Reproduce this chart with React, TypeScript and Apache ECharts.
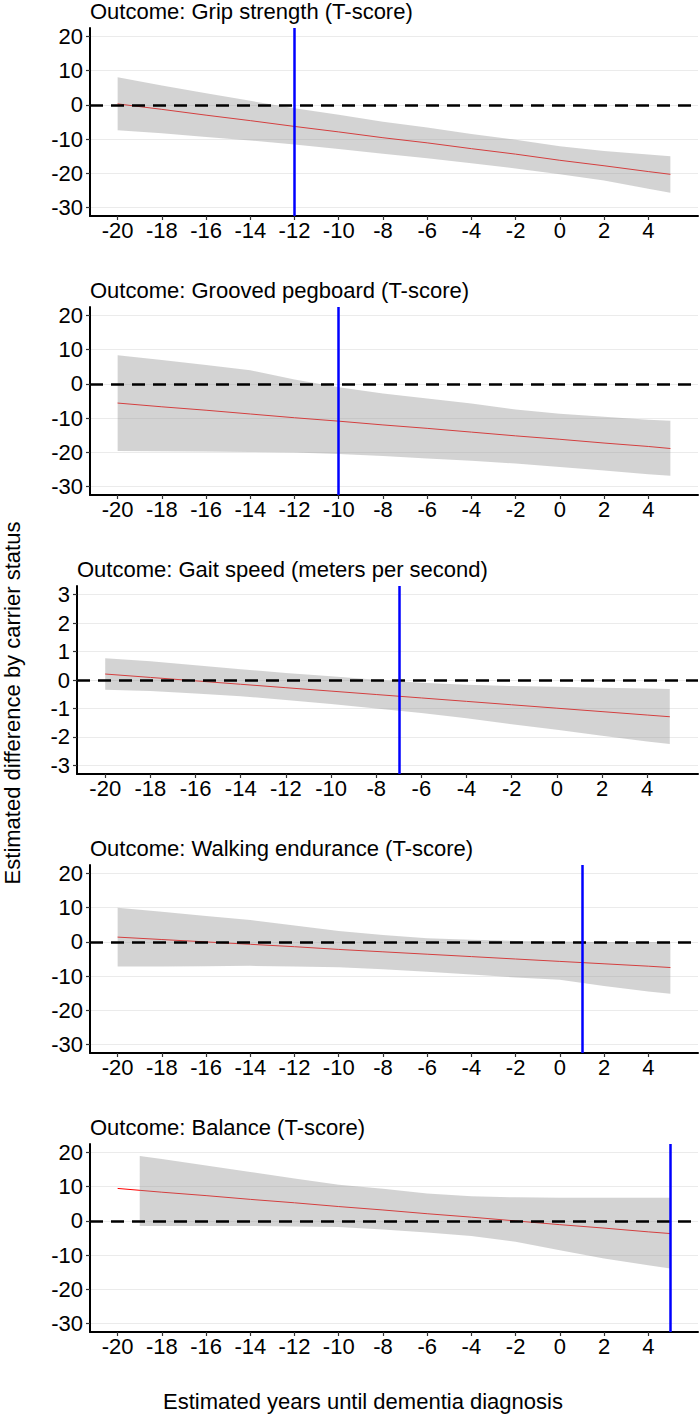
import React, { useEffect, useRef } from "react";
import * as echarts from "echarts";

// Years relative to estimated dementia diagnosis
const years = [-20, -18, -16, -14, -12, -10, -8, -6, -4, -2, 0, 2, 4, 5];
const balanceBandYears = [-19, -18, -16, -14, -12, -10, -8, -6, -4, -2, 0, 2, 4, 5];
const xTicks = [-20, -18, -16, -14, -12, -10, -8, -6, -4, -2, 0, 2, 4];
const tScoreTicks = [-30, -20, -10, 0, 10, 20];
const gaitTicks = [-3, -2, -1, 0, 1, 2, 3];

// Grip strength (T-score)
const gripEstimate = [0.3, -1.3, -3.0, -4.6, -6.3, -7.9, -9.6, -11.1, -12.8, -14.4, -16.2, -17.8, -19.5, -20.3];
const gripUpper = [8.1, 5.7, 3.4, 1.2, -1.0, -2.9, -4.9, -6.6, -8.5, -10.2, -12.1, -13.5, -14.5, -15.0];
const gripLower = [-7.4, -8.3, -9.4, -10.4, -11.6, -12.9, -14.3, -15.6, -17.1, -18.6, -20.3, -22.1, -24.5, -25.7];

// Grooved pegboard (T-score)
const pegEstimate = [-5.6, -6.7, -7.7, -8.8, -9.9, -10.9, -12.0, -13.0, -14.1, -15.2, -16.2, -17.3, -18.3, -18.9];
const pegUpper = [8.4, 7.0, 5.5, 4.0, 1.3, -1.0, -2.8, -4.3, -5.7, -7.5, -8.7, -9.6, -10.5, -10.8];
const pegLower = [-19.6, -19.7, -19.8, -19.9, -20.1, -20.5, -21.1, -21.8, -22.5, -23.3, -24.3, -25.3, -26.4, -26.9];

// Gait speed (meters per second)
const gaitEstimate = [0.21, 0.09, -0.03, -0.15, -0.27, -0.39, -0.51, -0.63, -0.75, -0.87, -0.99, -1.11, -1.23, -1.29];
const gaitUpper = [0.76, 0.66, 0.52, 0.38, 0.25, 0.13, 0.01, -0.10, -0.17, -0.21, -0.24, -0.27, -0.30, -0.32];
const gaitLower = [-0.34, -0.39, -0.47, -0.57, -0.70, -0.84, -1.00, -1.16, -1.34, -1.55, -1.75, -1.96, -2.16, -2.25];

// Walking endurance (T-score)
const walkEstimate = [1.4, 0.7, 0.0, -0.7, -1.4, -2.2, -2.9, -3.6, -4.3, -5.0, -5.7, -6.4, -7.1, -7.5];
const walkUpper = [10.0, 8.8, 7.6, 6.4, 4.8, 3.2, 2.0, 1.1, 0.6, 0.3, 0.1, 0.0, 0.0, 0.0];
const walkLower = [-7.2, -7.2, -7.1, -7.0, -7.2, -7.4, -8.0, -8.7, -9.5, -10.4, -11.1, -12.9, -14.5, -15.2];

// Balance (T-score)
const balanceEstimate = [9.5, 8.4, 7.4, 6.3, 5.3, 4.2, 3.2, 2.1, 1.1, 0.0, -1.1, -2.1, -3.2, -3.7];
const balanceUpper = [19.0, 18.1, 16.2, 14.3, 12.4, 10.6, 9.4, 8.0, 7.2, 6.9, 6.8, 6.8, 6.8, 6.8];
const balanceLower = [-1.5, -1.5, -1.5, -1.5, -1.6, -1.8, -2.5, -3.4, -4.4, -6.1, -8.6, -11.0, -13.0, -13.9];

const titles = [
  "Outcome: Grip strength (T-score)",
  "Outcome: Grooved pegboard (T-score)",
  "Outcome: Gait speed (meters per second)",
  "Outcome: Walking endurance (T-score)",
  "Outcome: Balance (T-score)",
];
const onsetYears = [-12, -10, -7, 1, 5];

const FONT = "'Liberation Sans', Arial, Helvetica, sans-serif";

type Panel = {
  title: string;
  est: number[];
  bandYears: number[];
  upper: number[];
  lower: number[];
  onset: number;
  yTicks: number[];
  yMin: number;
  yMax: number;
  left: number;
};

const panels: Panel[] = [
  { title: titles[0], est: gripEstimate, bandYears: years, upper: gripUpper, lower: gripLower, onset: onsetYears[0], yTicks: tScoreTicks, yMin: -32.5, yMax: 22.5, left: 90 },
  { title: titles[1], est: pegEstimate, bandYears: years, upper: pegUpper, lower: pegLower, onset: onsetYears[1], yTicks: tScoreTicks, yMin: -32.5, yMax: 22.5, left: 90 },
  { title: titles[2], est: gaitEstimate, bandYears: years, upper: gaitUpper, lower: gaitLower, onset: onsetYears[2], yTicks: gaitTicks, yMin: -3.3, yMax: 3.3, left: 77 },
  { title: titles[3], est: walkEstimate, bandYears: years, upper: walkUpper, lower: walkLower, onset: onsetYears[3], yTicks: tScoreTicks, yMin: -32.5, yMax: 22.5, left: 90 },
  { title: titles[4], est: balanceEstimate, bandYears: balanceBandYears, upper: balanceUpper, lower: balanceLower, onset: onsetYears[4], yTicks: tScoreTicks, yMin: -32.5, yMax: 22.5, left: 90 },
];

const PANEL_TOP = 28;
const PANEL_STEP = 279;
const PANEL_H = 188;
const RIGHT_EDGE = 698;

function buildOption() {
  const grid: any[] = [];
  const xAxis: any[] = [];
  const yAxis: any[] = [];
  const series: any[] = [];
  const graphic: any[] = [];

  panels.forEach((p, i) => {
    const top = PANEL_TOP + PANEL_STEP * i;
    grid.push({ left: p.left, top, width: RIGHT_EDGE - p.left, height: PANEL_H, containLabel: false });

    xAxis.push({
      type: "value",
      gridIndex: i,
      min: -21.25,
      max: 6.25,
      axisLine: { show: true, onZero: false, lineStyle: { color: "#000", width: 2 } },
      axisTick: { show: true, length: 4, customValues: xTicks, lineStyle: { color: "#333", width: 1.2 } },
      axisLabel: { customValues: xTicks, margin: 3, color: "#000", fontSize: 22, fontFamily: FONT },
      splitLine: { show: false },
    });

    yAxis.push({
      type: "value",
      gridIndex: i,
      min: p.yMin,
      max: p.yMax,
      axisLine: { show: true, onZero: false, lineStyle: { color: "#000", width: 2 } },
      axisTick: { show: true, length: 4, customValues: p.yTicks, lineStyle: { color: "#333", width: 1.2 } },
      axisLabel: { customValues: p.yTicks, margin: 7, color: "#000", fontSize: 22, fontFamily: FONT },
      splitLine: { show: true, lineStyle: { color: "#ebebeb", width: 1 } },
    });

    // Estimated difference
    series.push({
      type: "line",
      xAxisIndex: i,
      yAxisIndex: i,
      z: 2,
      symbol: "none",
      silent: true,
      data: years.map((x, k) => [x, p.est[k]]),
      lineStyle: { color: "#ff0000", width: 1 },
      markLine: {
        silent: true,
        symbol: "none",
        label: { show: false },
        emphasis: { disabled: true },
        data: [
          { yAxis: 0, lineStyle: { color: "#000", width: 2.5, type: [13, 8] } },
          { xAxis: p.onset, lineStyle: { color: "#0000ff", width: 2.5, type: "solid" } },
        ],
      },
    });

    // Confidence band
    series.push({
      type: "custom",
      xAxisIndex: i,
      yAxisIndex: i,
      z: 3,
      silent: true,
      data: [[p.bandYears[0], 0]],
      renderItem: (_params: any, api: any) => {
        const upperPts = p.bandYears.map((x, k) => api.coord([x, p.upper[k]]));
        const lowerPts = p.bandYears.map((x, k) => api.coord([x, p.lower[k]])).reverse();
        return {
          type: "polygon",
          shape: { points: upperPts.concat(lowerPts) },
          style: { fill: "rgba(150,150,150,0.42)", stroke: "none" },
        };
      },
    });

    graphic.push({
      type: "text",
      x: p.left,
      y: top - 17,
      style: {
        text: p.title,
        fontSize: 22,
        fontFamily: FONT,
        fill: "#000",
        align: "left",
        verticalAlign: "middle",
      },
    });
  });

  graphic.push({
    type: "text",
    x: 363,
    y: 1401,
    style: {
      text: "Estimated years until dementia diagnosis",
      fontSize: 22,
      fontFamily: FONT,
      fill: "#000",
      align: "center",
      verticalAlign: "middle",
    },
  });
  graphic.push({
    type: "text",
    x: 12,
    y: 703,
    rotation: Math.PI / 2,
    style: {
      text: "Estimated difference by carrier status",
      fontSize: 22,
      fontFamily: FONT,
      fill: "#000",
      align: "center",
      verticalAlign: "middle",
    },
  });

  return {
    animation: false,
    backgroundColor: "#fff",
    grid,
    xAxis,
    yAxis,
    series,
    graphic,
  };
}

export default function App() {
  const ref = useRef<HTMLDivElement>(null);
  useEffect(() => {
    if (!ref.current) return;
    const chart = echarts.init(ref.current, undefined, { renderer: "svg" });
    chart.setOption(buildOption());
    return () => chart.dispose();
  }, []);
  return (
    <div
      ref={ref}
      style={{ position: "absolute", left: 0, top: 0, width: 700, height: 1414 }}
    />
  );
}
